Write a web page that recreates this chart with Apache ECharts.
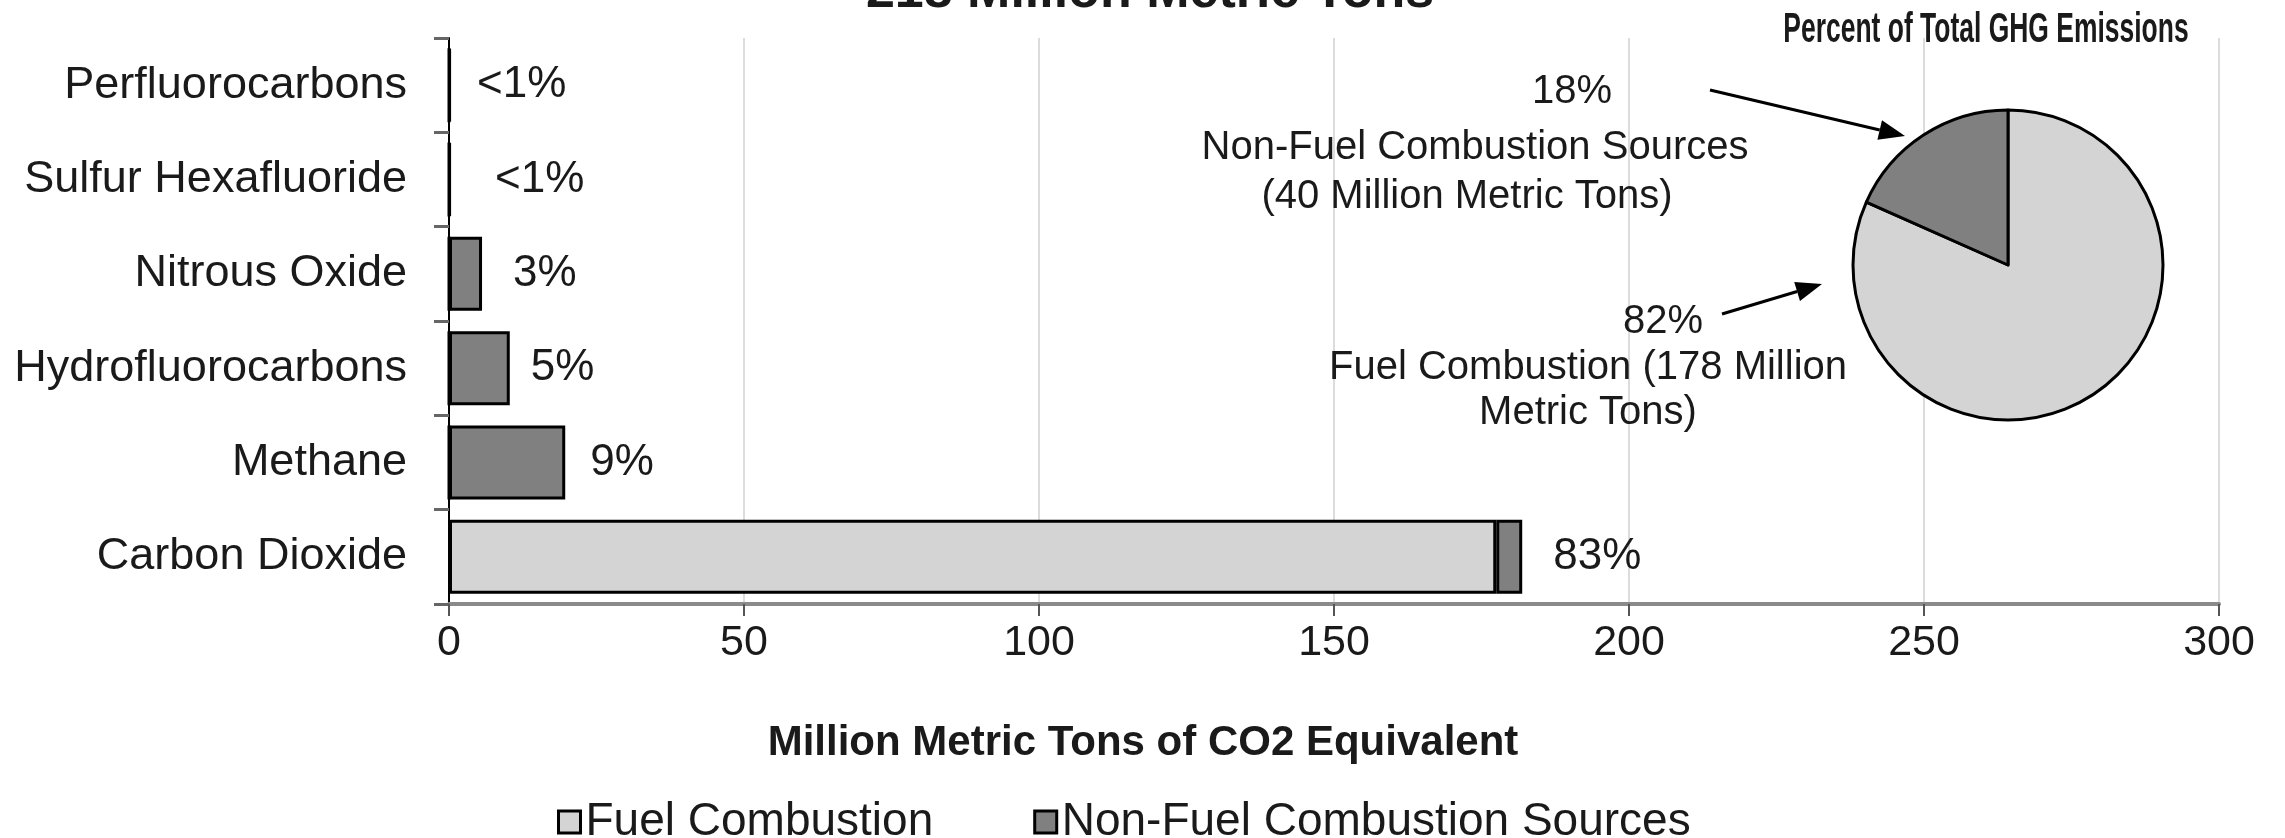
<!DOCTYPE html>
<html>
<head>
<meta charset="utf-8">
<script src="https://cdn.jsdelivr.net/npm/echarts@6/dist/echarts.min.js"></script>
<style>
html, body { margin: 0; padding: 0; background: #fff; }
#main { width: 2285px; height: 838px; }
</style>
</head>
<body>
<div id="main"></div>
<script>
// gases, top to bottom
const gases = ['Perfluorocarbons', 'Sulfur Hexafluoride', 'Nitrous Oxide', 'Hydrofluorocarbons', 'Methane', 'Carbon Dioxide'];
// million metric tons of CO2 equivalent
const fuelCombustion = [0, 0, 0, 0, 0, 177.5];
const nonFuelCombustion = [0.2, 0.2, 5.6, 10.3, 19.7, 4.4];
const shareLabels = ['<1%', '<1%', '3%', '5%', '9%', '83%'];

// pie: percent of total
const pieNames = ['Fuel Combustion', 'Non-Fuel Combustion Sources'];
const pieValues = [178, 40];

const FONT = "'Liberation Sans', Arial, sans-serif";
const TEXT = '#1a1a1a';
const LIGHT = '#d4d4d4';
const DARK = '#808080';

const labelGap = [26, 44, 31, 21, 25, 31];

const total = pieValues.reduce((a, b) => a + b, 0);
const pct = v => Math.round(v / total * 100) + '%';

// arrow = line + head
const arrow = (x1, y1, x2, y2) => {
    const a = Math.atan2(y2 - y1, x2 - x1);
    const len = 26, w = 10;
    const bx = x2 - len * Math.cos(a), by = y2 - len * Math.sin(a);
    return [
        { type: 'line', shape: { x1, y1, x2: bx, y2: by }, style: { stroke: '#000', lineWidth: 3 } },
        {
            type: 'polygon',
            shape: {
                points: [
                    [x2, y2],
                    [bx + w * Math.sin(a), by - w * Math.cos(a)],
                    [bx - w * Math.sin(a), by + w * Math.cos(a)]
                ]
            },
            style: { fill: '#000' }
        }
    ];
};

const txt = (text, x, y, size, bold, extra) => Object.assign({
    type: 'text', x, y, z: 10,
    style: {
        text, fontSize: size, fontFamily: FONT, fontWeight: bold ? 'bold' : 'normal',
        fill: TEXT, align: 'center', verticalAlign: 'middle'
    }
}, extra || {});

const chart = echarts.init(document.getElementById('main'));

chart.setOption({
    animation: false,
    backgroundColor: '#fff',
    textStyle: { fontFamily: FONT },
    grid: { left: 449, right: 66, top: 38, bottom: 234 },
    legend: {
        left: 552, top: 794,
        itemWidth: 22, itemHeight: 22, itemGap: 100,
        icon: 'rect',
        itemStyle: { borderColor: '#000', borderWidth: 3 },
        textStyle: { fontSize: 46, color: TEXT, fontFamily: FONT },
        data: pieNames
    },
    xAxis: {
        type: 'value',
        min: 0, max: 300, interval: 50,
        axisLine: { show: true, lineStyle: { color: '#8a8a8a', width: 4 } },
        axisTick: { show: true, length: 12, lineStyle: { color: '#555', width: 2 } },
        axisLabel: { fontSize: 43, color: TEXT, margin: 18, fontFamily: FONT },
        splitLine: { show: true, lineStyle: { color: '#dcdcdc', width: 2 } }
    },
    yAxis: {
        type: 'category',
        inverse: true,
        data: gases,
        axisLine: { show: true, lineStyle: { color: '#000', width: 2 } },
        axisTick: { show: true, length: 15, lineStyle: { color: '#666', width: 3 } },
        axisLabel: { fontSize: 45, color: TEXT, margin: 42, fontFamily: FONT }
    },
    series: [
        {
            name: pieNames[0], type: 'bar', stack: 'total', barWidth: 74,
            itemStyle: { color: LIGHT, borderColor: '#000', borderWidth: 3 },
            data: fuelCombustion
        },
        {
            name: pieNames[1], type: 'bar', stack: 'total', barWidth: 74,
            itemStyle: { color: DARK, borderColor: '#000', borderWidth: 3 },
            label: {
                show: true, position: 'right', fontSize: 44, color: TEXT, fontFamily: FONT,
                formatter: p => shareLabels[p.dataIndex]
            },
            data: nonFuelCombustion.map((v, i) => ({ value: v, label: { distance: labelGap[i] } }))
        },
        {
            type: 'pie', name: 'share',
            center: [2008, 265], radius: 155,
            startAngle: 90, clockwise: true,
            silent: true, z: 5,
            label: { show: false }, labelLine: { show: false },
            itemStyle: { borderColor: '#000', borderWidth: 3 },
            data: pieNames.map((n, i) => ({ name: n, value: pieValues[i], itemStyle: { color: i ? DARK : LIGHT } }))
        }
    ],
    graphic: [
        txt(total + ' Million Metric Tons', 1150, -7, 52, true),
        txt('Million Metric Tons of CO2 Equivalent', 1143, 743, 42, true),
        txt('Percent of Total GHG Emissions', 1986, 30, 42, true, { scaleX: 0.63 }),
        txt(pct(pieValues[1]), 1572, 92, 40, false),
        txt('Non-Fuel Combustion Sources', 1475, 148, 40, false),
        txt('(' + pieValues[1] + ' Million Metric Tons)', 1467, 197, 40, false),
        txt(pct(pieValues[0]), 1663, 322, 40, false),
        txt('Fuel Combustion (' + pieValues[0] + ' Million', 1588, 368, 40, false),
        txt('Metric Tons)', 1588, 413, 40, false),
        ...arrow(1710, 90, 1905, 136),
        ...arrow(1722, 314, 1822, 284)
    ]
});
</script>
</body>
</html>
